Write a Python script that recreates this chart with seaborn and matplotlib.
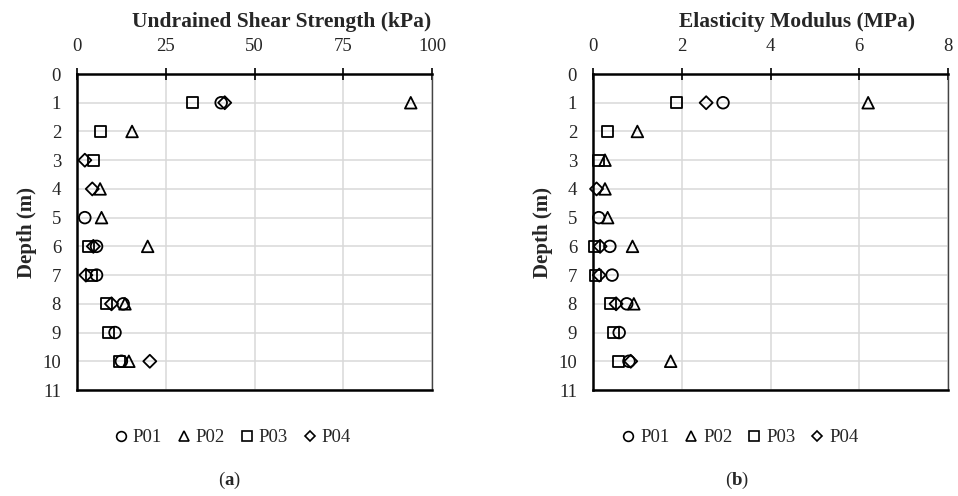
import numpy as np
import pandas as pd
import matplotlib
matplotlib.use('Agg')
import matplotlib.pyplot as plt
from matplotlib.lines import Line2D
import seaborn as sns

sns.set_style('white')
plt.rcParams['font.family'] = ['Liberation Serif', 'DejaVu Serif']
plt.rcParams['mathtext.fontset'] = 'custom'
plt.rcParams['mathtext.rm'] = 'Liberation Serif'
plt.rcParams['mathtext.bf'] = 'Liberation Serif:bold'

# DATA
depth = [1, 2, 3, 4, 5, 6, 7, 8, 9, 10]
probes = ['P01', 'P02', 'P03', 'P04']

# undrained shear strength (kPa)
su_p01 = [40.6, np.nan, np.nan, np.nan, 2.2, 5.5, 5.5, 13.0, 10.7, 12.5]
su_p02 = [94.0, 15.5, np.nan, 6.5, 6.9, 19.9, np.nan, 13.5, np.nan, 14.6]
su_p03 = [32.5, 6.7, 4.6, np.nan, np.nan, 3.2, 4.1, 8.3, 8.8, 11.9]
su_p04 = [41.6, np.nan, 2.2, 4.3, np.nan, 4.6, 2.5, 9.7, np.nan, 20.5]

# elasticity modulus (MPa)
e_p01 = [2.93, np.nan, np.nan, np.nan, 0.13, 0.38, 0.43, 0.76, 0.59, 0.81]
e_p02 = [6.20, 1.00, 0.27, 0.27, 0.33, 0.89, np.nan, 0.92, np.nan, 1.75]
e_p03 = [1.88, 0.33, 0.12, np.nan, np.nan, 0.03, 0.05, 0.40, 0.46, 0.58]
e_p04 = [2.55, np.nan, np.nan, 0.08, np.nan, 0.16, 0.14, 0.52, np.nan, 0.85]

markers = {'P01': 'o', 'P02': '^', 'P03': 's', 'P04': 'D'}
msize = {'P01': 70, 'P02': 70, 'P03': 64, 'P04': 44}


def long_table(series):
    rows = []
    for name, vals in zip(probes, series):
        for d, v in zip(depth, vals):
            rows.append({'probe': name, 'depth': d, 'value': v})
    return pd.DataFrame(rows).dropna()


df_su = long_table([su_p01, su_p02, su_p03, su_p04])
df_e = long_table([e_p01, e_p02, e_p03, e_p04])

fig = plt.figure(figsize=(9.58, 4.96), dpi=100)
ax1 = fig.add_axes([0.0804, 0.2137, 0.3706, 0.6371])
ax2 = fig.add_axes([0.6190, 0.2137, 0.3706, 0.6371])


def panel(ax, df, title, xmax, xstep, letter, title_x, foot_x):
    for name in probes:
        sub = df[df['probe'] == name]
        sns.scatterplot(data=sub, x='value', y='depth', marker=markers[name],
                        s=msize[name], facecolor='none', edgecolor='black',
                        linewidth=1.3, ax=ax, legend=False, zorder=3,
                        clip_on=False)
    ax.set_xlim(0, xmax)
    ax.set_ylim(11, 0)
    ax.set_xticks(np.arange(0, xmax + 0.1, xstep))
    ax.set_yticks(range(0, 12))
    ax.xaxis.tick_top()
    ax.xaxis.set_label_position('top')
    ax.grid(True, color='#d9d9d9', linewidth=1.1, zorder=0)
    ax.set_axisbelow(True)
    for side in ['left', 'top', 'bottom']:
        ax.spines[side].set_color('black')
        ax.spines[side].set_linewidth(1.8)
    ax.spines['right'].set_color('#444444')
    ax.spines['right'].set_linewidth(1.0)
    ax.tick_params(axis='both', direction='inout', length=9, width=1.2,
                   color='black', labelsize=13.5)
    ax.tick_params(axis='x', top=True, bottom=False, pad=9)
    ax.tick_params(axis='y', right=False, pad=7)
    ax.set_xlabel(title, fontsize=15.5, fontweight='bold')
    ax.xaxis.set_label_coords(title_x, 1.15)
    ax.set_ylabel('Depth (m)', fontsize=15, fontweight='bold')
    ax.yaxis.set_label_coords(-0.112, 0.5)
    handles = [Line2D([], [], linestyle='none', marker=markers[n],
                      markersize=7 if n != 'P04' else 5.5,
                      markerfacecolor='none', markeredgecolor='black',
                      markeredgewidth=1.2, label=n) for n in probes]
    ax.legend(handles=handles, loc='upper center', bbox_to_anchor=(foot_x, -0.07),
              ncol=4, frameon=False, fontsize=13.5, handletextpad=0.0,
              columnspacing=0.5, handlelength=1.3)
    ax.text(foot_x, -0.285, r'($\mathbf{' + letter + r'}$)', transform=ax.transAxes,
            ha='center', va='center', fontsize=13.5)


panel(ax1, df_su, 'Undrained Shear Strength (kPa)', 100, 25, 'a', 0.575, 0.43)
panel(ax2, df_e, 'Elasticity Modulus (MPa)', 8, 2, 'b', 0.575, 0.406)

plt.savefig('out.png', dpi=100)
